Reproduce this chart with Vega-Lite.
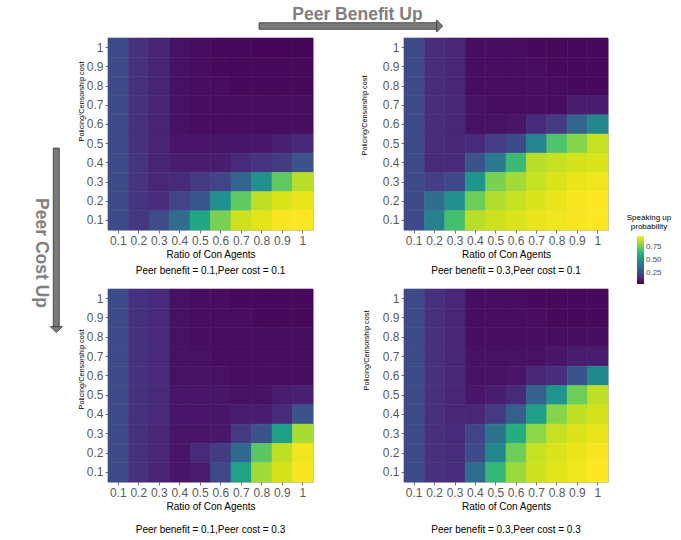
{
  "$schema": "https://vega.github.io/schema/vega-lite/v6.json",
  "padding": {"left": 20, "top": 0, "right": 0, "bottom": 0},
  "config": {
    "font": "Liberation Sans",
    "view": {"stroke": "#c0c0c0", "strokeWidth": 1},
    "axis": {
      "domain": false, "grid": false, "ticks": true, "tickColor": "#4d4d4d", "tickSize": 3, "tickWidth": 0.8,
      "labelColor": "#5a5a5a", "labelFontSize": 12, "labelPadding": 2, "labelOverlap": false, "labelBound": false,
      "titleFontWeight": "normal", "titleColor": "#000000", "titleFontSize": 10
    },
    "axisX": {"labelAngle": 0, "titlePadding": 3},
    "axisY": {"titleFontSize": 7.3, "titlePadding": 1},
    "title": {"fontSize": 10, "fontWeight": "normal", "color": "#000000", "orient": "bottom", "anchor": "middle"},
    "legend": {
      "orient": "none", "legendX": 607, "legendY": 214,
      "gradientLength": 48, "gradientThickness": 7, "gradientStrokeWidth": 0,
      "titleFontSize": 8, "titleFontWeight": "normal", "titleColor": "#000000", "titleLineHeight": 9, "titlePadding": 5,
      "titleAnchor": "middle",
      "labelFontSize": 8, "labelColor": "#4d4d4d", "labelOffset": 4
    }
  },
  "datasets": {
    "b01c01": [
      {"ratio":0.1,"cost":1,"prob":0.24},{"ratio":0.2,"cost":1,"prob":0.16},{"ratio":0.3,"cost":1,"prob":0.12},{"ratio":0.4,"cost":1,"prob":0.07},{"ratio":0.5,"cost":1,"prob":0.06},{"ratio":0.6,"cost":1,"prob":0.05},{"ratio":0.7,"cost":1,"prob":0.05},{"ratio":0.8,"cost":1,"prob":0.04},{"ratio":0.9,"cost":1,"prob":0.04},{"ratio":1,"cost":1,"prob":0.04},
      {"ratio":0.1,"cost":0.9,"prob":0.24},{"ratio":0.2,"cost":0.9,"prob":0.16},{"ratio":0.3,"cost":0.9,"prob":0.12},{"ratio":0.4,"cost":0.9,"prob":0.07},{"ratio":0.5,"cost":0.9,"prob":0.06},{"ratio":0.6,"cost":0.9,"prob":0.05},{"ratio":0.7,"cost":0.9,"prob":0.05},{"ratio":0.8,"cost":0.9,"prob":0.05},{"ratio":0.9,"cost":0.9,"prob":0.05},{"ratio":1,"cost":0.9,"prob":0.05},
      {"ratio":0.1,"cost":0.8,"prob":0.24},{"ratio":0.2,"cost":0.8,"prob":0.16},{"ratio":0.3,"cost":0.8,"prob":0.12},{"ratio":0.4,"cost":0.8,"prob":0.07},{"ratio":0.5,"cost":0.8,"prob":0.06},{"ratio":0.6,"cost":0.8,"prob":0.06},{"ratio":0.7,"cost":0.8,"prob":0.05},{"ratio":0.8,"cost":0.8,"prob":0.05},{"ratio":0.9,"cost":0.8,"prob":0.05},{"ratio":1,"cost":0.8,"prob":0.05},
      {"ratio":0.1,"cost":0.7,"prob":0.24},{"ratio":0.2,"cost":0.7,"prob":0.16},{"ratio":0.3,"cost":0.7,"prob":0.12},{"ratio":0.4,"cost":0.7,"prob":0.07},{"ratio":0.5,"cost":0.7,"prob":0.06},{"ratio":0.6,"cost":0.7,"prob":0.06},{"ratio":0.7,"cost":0.7,"prob":0.06},{"ratio":0.8,"cost":0.7,"prob":0.06},{"ratio":0.9,"cost":0.7,"prob":0.06},{"ratio":1,"cost":0.7,"prob":0.06},
      {"ratio":0.1,"cost":0.6,"prob":0.24},{"ratio":0.2,"cost":0.6,"prob":0.16},{"ratio":0.3,"cost":0.6,"prob":0.12},{"ratio":0.4,"cost":0.6,"prob":0.07},{"ratio":0.5,"cost":0.6,"prob":0.06},{"ratio":0.6,"cost":0.6,"prob":0.06},{"ratio":0.7,"cost":0.6,"prob":0.06},{"ratio":0.8,"cost":0.6,"prob":0.06},{"ratio":0.9,"cost":0.6,"prob":0.06},{"ratio":1,"cost":0.6,"prob":0.06},
      {"ratio":0.1,"cost":0.5,"prob":0.24},{"ratio":0.2,"cost":0.5,"prob":0.16},{"ratio":0.3,"cost":0.5,"prob":0.12},{"ratio":0.4,"cost":0.5,"prob":0.08},{"ratio":0.5,"cost":0.5,"prob":0.08},{"ratio":0.6,"cost":0.5,"prob":0.08},{"ratio":0.7,"cost":0.5,"prob":0.08},{"ratio":0.8,"cost":0.5,"prob":0.09},{"ratio":0.9,"cost":0.5,"prob":0.11},{"ratio":1,"cost":0.5,"prob":0.13},
      {"ratio":0.1,"cost":0.4,"prob":0.24},{"ratio":0.2,"cost":0.4,"prob":0.17},{"ratio":0.3,"cost":0.4,"prob":0.12},{"ratio":0.4,"cost":0.4,"prob":0.10},{"ratio":0.5,"cost":0.4,"prob":0.10},{"ratio":0.6,"cost":0.4,"prob":0.10},{"ratio":0.7,"cost":0.4,"prob":0.14},{"ratio":0.8,"cost":0.4,"prob":0.17},{"ratio":0.9,"cost":0.4,"prob":0.19},{"ratio":1,"cost":0.4,"prob":0.27},
      {"ratio":0.1,"cost":0.3,"prob":0.24},{"ratio":0.2,"cost":0.3,"prob":0.17},{"ratio":0.3,"cost":0.3,"prob":0.13},{"ratio":0.4,"cost":0.3,"prob":0.14},{"ratio":0.5,"cost":0.3,"prob":0.19},{"ratio":0.6,"cost":0.3,"prob":0.22},{"ratio":0.7,"cost":0.3,"prob":0.33},{"ratio":0.8,"cost":0.3,"prob":0.50},{"ratio":0.9,"cost":0.3,"prob":0.74},{"ratio":1,"cost":0.3,"prob":0.87},
      {"ratio":0.1,"cost":0.2,"prob":0.24},{"ratio":0.2,"cost":0.2,"prob":0.17},{"ratio":0.3,"cost":0.2,"prob":0.15},{"ratio":0.4,"cost":0.2,"prob":0.22},{"ratio":0.5,"cost":0.2,"prob":0.28},{"ratio":0.6,"cost":0.2,"prob":0.50},{"ratio":0.7,"cost":0.2,"prob":0.74},{"ratio":0.8,"cost":0.2,"prob":0.88},{"ratio":0.9,"cost":0.2,"prob":0.92},{"ratio":1,"cost":0.2,"prob":0.94},
      {"ratio":0.1,"cost":0.1,"prob":0.24},{"ratio":0.2,"cost":0.1,"prob":0.18},{"ratio":0.3,"cost":0.1,"prob":0.25},{"ratio":0.4,"cost":0.1,"prob":0.36},{"ratio":0.5,"cost":0.1,"prob":0.59},{"ratio":0.6,"cost":0.1,"prob":0.78},{"ratio":0.7,"cost":0.1,"prob":0.90},{"ratio":0.8,"cost":0.1,"prob":0.93},{"ratio":0.9,"cost":0.1,"prob":0.96},{"ratio":1,"cost":0.1,"prob":0.97}
    ],
    "b03c01": [
      {"ratio":0.1,"cost":1,"prob":0.24},{"ratio":0.2,"cost":1,"prob":0.15},{"ratio":0.3,"cost":1,"prob":0.13},{"ratio":0.4,"cost":1,"prob":0.06},{"ratio":0.5,"cost":1,"prob":0.06},{"ratio":0.6,"cost":1,"prob":0.06},{"ratio":0.7,"cost":1,"prob":0.05},{"ratio":0.8,"cost":1,"prob":0.05},{"ratio":0.9,"cost":1,"prob":0.05},{"ratio":1,"cost":1,"prob":0.05},
      {"ratio":0.1,"cost":0.9,"prob":0.24},{"ratio":0.2,"cost":0.9,"prob":0.15},{"ratio":0.3,"cost":0.9,"prob":0.13},{"ratio":0.4,"cost":0.9,"prob":0.06},{"ratio":0.5,"cost":0.9,"prob":0.06},{"ratio":0.6,"cost":0.9,"prob":0.06},{"ratio":0.7,"cost":0.9,"prob":0.06},{"ratio":0.8,"cost":0.9,"prob":0.05},{"ratio":0.9,"cost":0.9,"prob":0.05},{"ratio":1,"cost":0.9,"prob":0.05},
      {"ratio":0.1,"cost":0.8,"prob":0.24},{"ratio":0.2,"cost":0.8,"prob":0.15},{"ratio":0.3,"cost":0.8,"prob":0.13},{"ratio":0.4,"cost":0.8,"prob":0.06},{"ratio":0.5,"cost":0.8,"prob":0.06},{"ratio":0.6,"cost":0.8,"prob":0.06},{"ratio":0.7,"cost":0.8,"prob":0.06},{"ratio":0.8,"cost":0.8,"prob":0.06},{"ratio":0.9,"cost":0.8,"prob":0.05},{"ratio":1,"cost":0.8,"prob":0.05},
      {"ratio":0.1,"cost":0.7,"prob":0.24},{"ratio":0.2,"cost":0.7,"prob":0.15},{"ratio":0.3,"cost":0.7,"prob":0.13},{"ratio":0.4,"cost":0.7,"prob":0.07},{"ratio":0.5,"cost":0.7,"prob":0.06},{"ratio":0.6,"cost":0.7,"prob":0.06},{"ratio":0.7,"cost":0.7,"prob":0.06},{"ratio":0.8,"cost":0.7,"prob":0.06},{"ratio":0.9,"cost":0.7,"prob":0.10},{"ratio":1,"cost":0.7,"prob":0.10},
      {"ratio":0.1,"cost":0.6,"prob":0.24},{"ratio":0.2,"cost":0.6,"prob":0.15},{"ratio":0.3,"cost":0.6,"prob":0.13},{"ratio":0.4,"cost":0.6,"prob":0.07},{"ratio":0.5,"cost":0.6,"prob":0.07},{"ratio":0.6,"cost":0.6,"prob":0.08},{"ratio":0.7,"cost":0.6,"prob":0.14},{"ratio":0.8,"cost":0.6,"prob":0.19},{"ratio":0.9,"cost":0.6,"prob":0.33},{"ratio":1,"cost":0.6,"prob":0.47},
      {"ratio":0.1,"cost":0.5,"prob":0.24},{"ratio":0.2,"cost":0.5,"prob":0.15},{"ratio":0.3,"cost":0.5,"prob":0.13},{"ratio":0.4,"cost":0.5,"prob":0.14},{"ratio":0.5,"cost":0.5,"prob":0.20},{"ratio":0.6,"cost":0.5,"prob":0.24},{"ratio":0.7,"cost":0.5,"prob":0.45},{"ratio":0.8,"cost":0.5,"prob":0.71},{"ratio":0.9,"cost":0.5,"prob":0.80},{"ratio":1,"cost":0.5,"prob":0.89},
      {"ratio":0.1,"cost":0.4,"prob":0.24},{"ratio":0.2,"cost":0.4,"prob":0.14},{"ratio":0.3,"cost":0.4,"prob":0.14},{"ratio":0.4,"cost":0.4,"prob":0.27},{"ratio":0.5,"cost":0.4,"prob":0.41},{"ratio":0.6,"cost":0.4,"prob":0.67},{"ratio":0.7,"cost":0.4,"prob":0.87},{"ratio":0.8,"cost":0.4,"prob":0.89},{"ratio":0.9,"cost":0.4,"prob":0.91},{"ratio":1,"cost":0.4,"prob":0.92},
      {"ratio":0.1,"cost":0.3,"prob":0.24},{"ratio":0.2,"cost":0.3,"prob":0.20},{"ratio":0.3,"cost":0.3,"prob":0.23},{"ratio":0.4,"cost":0.3,"prob":0.52},{"ratio":0.5,"cost":0.3,"prob":0.78},{"ratio":0.6,"cost":0.3,"prob":0.84},{"ratio":0.7,"cost":0.3,"prob":0.89},{"ratio":0.8,"cost":0.3,"prob":0.92},{"ratio":0.9,"cost":0.3,"prob":0.94},{"ratio":1,"cost":0.3,"prob":0.95},
      {"ratio":0.1,"cost":0.2,"prob":0.24},{"ratio":0.2,"cost":0.2,"prob":0.37},{"ratio":0.3,"cost":0.2,"prob":0.50},{"ratio":0.4,"cost":0.2,"prob":0.76},{"ratio":0.5,"cost":0.2,"prob":0.86},{"ratio":0.6,"cost":0.2,"prob":0.89},{"ratio":0.7,"cost":0.2,"prob":0.92},{"ratio":0.8,"cost":0.2,"prob":0.94},{"ratio":0.9,"cost":0.2,"prob":0.96},{"ratio":1,"cost":0.2,"prob":0.97},
      {"ratio":0.1,"cost":0.1,"prob":0.24},{"ratio":0.2,"cost":0.1,"prob":0.44},{"ratio":0.3,"cost":0.1,"prob":0.69},{"ratio":0.4,"cost":0.1,"prob":0.87},{"ratio":0.5,"cost":0.1,"prob":0.90},{"ratio":0.6,"cost":0.1,"prob":0.92},{"ratio":0.7,"cost":0.1,"prob":0.94},{"ratio":0.8,"cost":0.1,"prob":0.95},{"ratio":0.9,"cost":0.1,"prob":0.96},{"ratio":1,"cost":0.1,"prob":0.97}
    ],
    "b01c03": [
      {"ratio":0.1,"cost":1,"prob":0.24},{"ratio":0.2,"cost":1,"prob":0.16},{"ratio":0.3,"cost":1,"prob":0.14},{"ratio":0.4,"cost":1,"prob":0.07},{"ratio":0.5,"cost":1,"prob":0.06},{"ratio":0.6,"cost":1,"prob":0.06},{"ratio":0.7,"cost":1,"prob":0.05},{"ratio":0.8,"cost":1,"prob":0.05},{"ratio":0.9,"cost":1,"prob":0.05},{"ratio":1,"cost":1,"prob":0.05},
      {"ratio":0.1,"cost":0.9,"prob":0.24},{"ratio":0.2,"cost":0.9,"prob":0.16},{"ratio":0.3,"cost":0.9,"prob":0.14},{"ratio":0.4,"cost":0.9,"prob":0.07},{"ratio":0.5,"cost":0.9,"prob":0.06},{"ratio":0.6,"cost":0.9,"prob":0.06},{"ratio":0.7,"cost":0.9,"prob":0.06},{"ratio":0.8,"cost":0.9,"prob":0.05},{"ratio":0.9,"cost":0.9,"prob":0.05},{"ratio":1,"cost":0.9,"prob":0.05},
      {"ratio":0.1,"cost":0.8,"prob":0.24},{"ratio":0.2,"cost":0.8,"prob":0.16},{"ratio":0.3,"cost":0.8,"prob":0.14},{"ratio":0.4,"cost":0.8,"prob":0.07},{"ratio":0.5,"cost":0.8,"prob":0.06},{"ratio":0.6,"cost":0.8,"prob":0.06},{"ratio":0.7,"cost":0.8,"prob":0.06},{"ratio":0.8,"cost":0.8,"prob":0.06},{"ratio":0.9,"cost":0.8,"prob":0.06},{"ratio":1,"cost":0.8,"prob":0.06},
      {"ratio":0.1,"cost":0.7,"prob":0.24},{"ratio":0.2,"cost":0.7,"prob":0.16},{"ratio":0.3,"cost":0.7,"prob":0.14},{"ratio":0.4,"cost":0.7,"prob":0.07},{"ratio":0.5,"cost":0.7,"prob":0.07},{"ratio":0.6,"cost":0.7,"prob":0.06},{"ratio":0.7,"cost":0.7,"prob":0.06},{"ratio":0.8,"cost":0.7,"prob":0.06},{"ratio":0.9,"cost":0.7,"prob":0.06},{"ratio":1,"cost":0.7,"prob":0.06},
      {"ratio":0.1,"cost":0.6,"prob":0.24},{"ratio":0.2,"cost":0.6,"prob":0.16},{"ratio":0.3,"cost":0.6,"prob":0.14},{"ratio":0.4,"cost":0.6,"prob":0.07},{"ratio":0.5,"cost":0.6,"prob":0.07},{"ratio":0.6,"cost":0.6,"prob":0.07},{"ratio":0.7,"cost":0.6,"prob":0.06},{"ratio":0.8,"cost":0.6,"prob":0.06},{"ratio":0.9,"cost":0.6,"prob":0.06},{"ratio":1,"cost":0.6,"prob":0.06},
      {"ratio":0.1,"cost":0.5,"prob":0.24},{"ratio":0.2,"cost":0.5,"prob":0.16},{"ratio":0.3,"cost":0.5,"prob":0.14},{"ratio":0.4,"cost":0.5,"prob":0.08},{"ratio":0.5,"cost":0.5,"prob":0.08},{"ratio":0.6,"cost":0.5,"prob":0.08},{"ratio":0.7,"cost":0.5,"prob":0.07},{"ratio":0.8,"cost":0.5,"prob":0.07},{"ratio":0.9,"cost":0.5,"prob":0.10},{"ratio":1,"cost":0.5,"prob":0.11},
      {"ratio":0.1,"cost":0.4,"prob":0.24},{"ratio":0.2,"cost":0.4,"prob":0.16},{"ratio":0.3,"cost":0.4,"prob":0.14},{"ratio":0.4,"cost":0.4,"prob":0.08},{"ratio":0.5,"cost":0.4,"prob":0.08},{"ratio":0.6,"cost":0.4,"prob":0.08},{"ratio":0.7,"cost":0.4,"prob":0.10},{"ratio":0.8,"cost":0.4,"prob":0.10},{"ratio":0.9,"cost":0.4,"prob":0.14},{"ratio":1,"cost":0.4,"prob":0.27},
      {"ratio":0.1,"cost":0.3,"prob":0.24},{"ratio":0.2,"cost":0.3,"prob":0.16},{"ratio":0.3,"cost":0.3,"prob":0.13},{"ratio":0.4,"cost":0.3,"prob":0.08},{"ratio":0.5,"cost":0.3,"prob":0.08},{"ratio":0.6,"cost":0.3,"prob":0.09},{"ratio":0.7,"cost":0.3,"prob":0.19},{"ratio":0.8,"cost":0.3,"prob":0.27},{"ratio":0.9,"cost":0.3,"prob":0.56},{"ratio":1,"cost":0.3,"prob":0.85},
      {"ratio":0.1,"cost":0.2,"prob":0.24},{"ratio":0.2,"cost":0.2,"prob":0.16},{"ratio":0.3,"cost":0.2,"prob":0.13},{"ratio":0.4,"cost":0.2,"prob":0.08},{"ratio":0.5,"cost":0.2,"prob":0.14},{"ratio":0.6,"cost":0.2,"prob":0.19},{"ratio":0.7,"cost":0.2,"prob":0.35},{"ratio":0.8,"cost":0.2,"prob":0.73},{"ratio":0.9,"cost":0.2,"prob":0.88},{"ratio":1,"cost":0.2,"prob":0.95},
      {"ratio":0.1,"cost":0.1,"prob":0.24},{"ratio":0.2,"cost":0.1,"prob":0.16},{"ratio":0.3,"cost":0.1,"prob":0.12},{"ratio":0.4,"cost":0.1,"prob":0.08},{"ratio":0.5,"cost":0.1,"prob":0.10},{"ratio":0.6,"cost":0.1,"prob":0.23},{"ratio":0.7,"cost":0.1,"prob":0.57},{"ratio":0.8,"cost":0.1,"prob":0.84},{"ratio":0.9,"cost":0.1,"prob":0.91},{"ratio":1,"cost":0.1,"prob":0.96}
    ],
    "b03c03": [
      {"ratio":0.1,"cost":1,"prob":0.24},{"ratio":0.2,"cost":1,"prob":0.16},{"ratio":0.3,"cost":1,"prob":0.13},{"ratio":0.4,"cost":1,"prob":0.06},{"ratio":0.5,"cost":1,"prob":0.06},{"ratio":0.6,"cost":1,"prob":0.06},{"ratio":0.7,"cost":1,"prob":0.05},{"ratio":0.8,"cost":1,"prob":0.05},{"ratio":0.9,"cost":1,"prob":0.05},{"ratio":1,"cost":1,"prob":0.05},
      {"ratio":0.1,"cost":0.9,"prob":0.24},{"ratio":0.2,"cost":0.9,"prob":0.16},{"ratio":0.3,"cost":0.9,"prob":0.13},{"ratio":0.4,"cost":0.9,"prob":0.06},{"ratio":0.5,"cost":0.9,"prob":0.06},{"ratio":0.6,"cost":0.9,"prob":0.06},{"ratio":0.7,"cost":0.9,"prob":0.06},{"ratio":0.8,"cost":0.9,"prob":0.05},{"ratio":0.9,"cost":0.9,"prob":0.05},{"ratio":1,"cost":0.9,"prob":0.05},
      {"ratio":0.1,"cost":0.8,"prob":0.24},{"ratio":0.2,"cost":0.8,"prob":0.16},{"ratio":0.3,"cost":0.8,"prob":0.13},{"ratio":0.4,"cost":0.8,"prob":0.06},{"ratio":0.5,"cost":0.8,"prob":0.06},{"ratio":0.6,"cost":0.8,"prob":0.06},{"ratio":0.7,"cost":0.8,"prob":0.06},{"ratio":0.8,"cost":0.8,"prob":0.06},{"ratio":0.9,"cost":0.8,"prob":0.06},{"ratio":1,"cost":0.8,"prob":0.06},
      {"ratio":0.1,"cost":0.7,"prob":0.24},{"ratio":0.2,"cost":0.7,"prob":0.16},{"ratio":0.3,"cost":0.7,"prob":0.13},{"ratio":0.4,"cost":0.7,"prob":0.07},{"ratio":0.5,"cost":0.7,"prob":0.07},{"ratio":0.6,"cost":0.7,"prob":0.07},{"ratio":0.7,"cost":0.7,"prob":0.07},{"ratio":0.8,"cost":0.7,"prob":0.08},{"ratio":0.9,"cost":0.7,"prob":0.10},{"ratio":1,"cost":0.7,"prob":0.10},
      {"ratio":0.1,"cost":0.6,"prob":0.24},{"ratio":0.2,"cost":0.6,"prob":0.16},{"ratio":0.3,"cost":0.6,"prob":0.13},{"ratio":0.4,"cost":0.6,"prob":0.07},{"ratio":0.5,"cost":0.6,"prob":0.07},{"ratio":0.6,"cost":0.6,"prob":0.08},{"ratio":0.7,"cost":0.6,"prob":0.13},{"ratio":0.8,"cost":0.6,"prob":0.15},{"ratio":0.9,"cost":0.6,"prob":0.27},{"ratio":1,"cost":0.6,"prob":0.47},
      {"ratio":0.1,"cost":0.5,"prob":0.24},{"ratio":0.2,"cost":0.5,"prob":0.16},{"ratio":0.3,"cost":0.5,"prob":0.13},{"ratio":0.4,"cost":0.5,"prob":0.08},{"ratio":0.5,"cost":0.5,"prob":0.10},{"ratio":0.6,"cost":0.5,"prob":0.14},{"ratio":0.7,"cost":0.5,"prob":0.32},{"ratio":0.8,"cost":0.5,"prob":0.52},{"ratio":0.9,"cost":0.5,"prob":0.76},{"ratio":1,"cost":0.5,"prob":0.88},
      {"ratio":0.1,"cost":0.4,"prob":0.24},{"ratio":0.2,"cost":0.4,"prob":0.16},{"ratio":0.3,"cost":0.4,"prob":0.13},{"ratio":0.4,"cost":0.4,"prob":0.13},{"ratio":0.5,"cost":0.4,"prob":0.19},{"ratio":0.6,"cost":0.4,"prob":0.31},{"ratio":0.7,"cost":0.4,"prob":0.56},{"ratio":0.8,"cost":0.4,"prob":0.80},{"ratio":0.9,"cost":0.4,"prob":0.88},{"ratio":1,"cost":0.4,"prob":0.91},
      {"ratio":0.1,"cost":0.3,"prob":0.24},{"ratio":0.2,"cost":0.3,"prob":0.16},{"ratio":0.3,"cost":0.3,"prob":0.14},{"ratio":0.4,"cost":0.3,"prob":0.22},{"ratio":0.5,"cost":0.3,"prob":0.39},{"ratio":0.6,"cost":0.3,"prob":0.61},{"ratio":0.7,"cost":0.3,"prob":0.81},{"ratio":0.8,"cost":0.3,"prob":0.89},{"ratio":0.9,"cost":0.3,"prob":0.92},{"ratio":1,"cost":0.3,"prob":0.94},
      {"ratio":0.1,"cost":0.2,"prob":0.24},{"ratio":0.2,"cost":0.2,"prob":0.16},{"ratio":0.3,"cost":0.2,"prob":0.15},{"ratio":0.4,"cost":0.2,"prob":0.24},{"ratio":0.5,"cost":0.2,"prob":0.47},{"ratio":0.6,"cost":0.2,"prob":0.76},{"ratio":0.7,"cost":0.2,"prob":0.89},{"ratio":0.8,"cost":0.2,"prob":0.92},{"ratio":0.9,"cost":0.2,"prob":0.94},{"ratio":1,"cost":0.2,"prob":0.96},
      {"ratio":0.1,"cost":0.1,"prob":0.24},{"ratio":0.2,"cost":0.1,"prob":0.16},{"ratio":0.3,"cost":0.1,"prob":0.15},{"ratio":0.4,"cost":0.1,"prob":0.36},{"ratio":0.5,"cost":0.1,"prob":0.66},{"ratio":0.6,"cost":0.1,"prob":0.83},{"ratio":0.7,"cost":0.1,"prob":0.90},{"ratio":0.8,"cost":0.1,"prob":0.93},{"ratio":0.9,"cost":0.1,"prob":0.95},{"ratio":1,"cost":0.1,"prob":0.97}
    ]
  },
  "resolve": {"scale": {"color": "shared"}, "legend": {"color": "shared"}},
  "bounds": "flush",
  "align": "each",
  "columns": 3,
  "spacing": {"row": 8, "column": 43},
  "concat": [
    {
      "width": 1, "height": 1,
      "view": {"stroke": null},
      "data": {"values": []},
      "mark": "point"
    },
    {
      "width": 253,
      "height": 30,
      "view": {"stroke": null},
      "data": {"values": [{}]},
      "layer": [
        {
          "mark": {"type": "rect", "fill": "#7a7a7a", "stroke": "#333333", "strokeWidth": 0.8},
          "encoding": {
            "x": {"datum": 0.597, "type": "quantitative", "scale": {"domain": [0, 1]}, "axis": null},
            "x2": {"datum": 1.302},
            "y": {"datum": 0.757, "type": "quantitative", "scale": {"domain": [0, 1], "reverse": true}, "axis": null},
            "y2": {"datum": 0.977}
          }
        },
        {
          "mark": {"type": "point", "shape": "M-0.5,-1L0.5,0L-0.5,1Z", "filled": true, "fill": "#7a7a7a", "stroke": "#333333", "strokeWidth": 0.8, "size": 144, "opacity": 1},
          "encoding": {
            "x": {"datum": 1.311, "type": "quantitative"},
            "y": {"datum": 0.867, "type": "quantitative"}
          }
        },
        {
          "mark": {"type": "text", "text": "Peer Benefit Up", "fontSize": 17.5, "fontWeight": "bold", "fill": "#808080", "align": "center", "baseline": "middle"},
          "encoding": {
            "x": {"datum": 0.986, "type": "quantitative"},
            "y": {"datum": 0.5, "type": "quantitative"}
          }
        }
      ]
    },
    {
      "width": 1, "height": 1,
      "view": {"stroke": null},
      "data": {"values": []},
      "mark": "point"
    },
    {
      "width": 45,
      "height": 243,
      "view": {"stroke": null},
      "data": {"values": [{}]},
      "layer": [
        {
          "mark": {"type": "rect", "fill": "#7a7a7a", "stroke": "#333333", "strokeWidth": 0.8},
          "encoding": {
            "x": {"datum": 0.74, "type": "quantitative", "scale": {"domain": [0, 1]}, "axis": null},
            "x2": {"datum": 0.873},
            "y": {"datum": 0.453, "type": "quantitative", "scale": {"domain": [0, 1], "reverse": true}, "axis": null},
            "y2": {"datum": 1.188}
          }
        },
        {
          "mark": {"type": "point", "shape": "M-1,-0.5L1,-0.5L0,0.5Z", "filled": true, "fill": "#7a7a7a", "stroke": "#333333", "strokeWidth": 0.8, "size": 144, "opacity": 1},
          "encoding": {
            "x": {"datum": 0.807, "type": "quantitative"},
            "y": {"datum": 1.2, "type": "quantitative"}
          }
        },
        {
          "mark": {"type": "text", "text": "Peer Cost Up", "angle": 90, "fontSize": 17.5, "fontWeight": "bold", "fill": "#808080", "align": "center", "baseline": "middle"},
          "encoding": {
            "x": {"datum": 0.46, "type": "quantitative"},
            "y": {"datum": 0.885, "type": "quantitative"}
          }
        }
      ]
    },
    {
      "width": 205, "height": 192,
      "data": {"name": "b01c01"},
      "title": {"text": "Peer benefit = 0.1,Peer cost = 0.1", "offset": 7},
      "mark": {"type": "rect", "strokeWidth": 0.6, "stroke": {"expr": "scale('color', datum.prob)"}},
      "encoding": {
        "x": {"field": "ratio", "type": "ordinal", "axis": {"title": "Ratio of Con Agents"}},
        "y": {"field": "cost", "type": "ordinal", "sort": "descending", "axis": {"title": "Policing/Censorship cost", "titleY": 63, "titlePadding": 1}},
        "color": {"field": "prob", "type": "quantitative", "scale": {"scheme": "viridis", "domain": [0.03, 0.97]}, "legend": {"type": "gradient", "title": ["Speaking up", "probability"], "values": [0.25, 0.5, 0.75], "format": ".2f"}}
      }
    },
    {
      "width": 204, "height": 192,
      "data": {"name": "b03c01"},
      "title": {"text": "Peer benefit = 0.3,Peer cost = 0.1", "offset": 7},
      "mark": {"type": "rect", "strokeWidth": 0.6, "stroke": {"expr": "scale('color', datum.prob)"}},
      "encoding": {
        "x": {"field": "ratio", "type": "ordinal", "axis": {"title": "Ratio of Con Agents"}},
        "y": {"field": "cost", "type": "ordinal", "sort": "descending", "axis": {"title": "Policing/Censorship cost", "titleY": 77, "titlePadding": 14}},
        "color": {"field": "prob", "type": "quantitative", "scale": {"scheme": "viridis", "domain": [0.03, 0.97]}, "legend": {"type": "gradient", "title": ["Speaking up", "probability"], "values": [0.25, 0.5, 0.75], "format": ".2f"}}
      }
    },
    {
      "width": 1, "height": 1,
      "view": {"stroke": null},
      "data": {"values": []},
      "mark": "point"
    },
    {
      "width": 205, "height": 193,
      "data": {"name": "b01c03"},
      "title": {"text": "Peer benefit = 0.1,Peer cost = 0.3", "offset": 14},
      "mark": {"type": "rect", "strokeWidth": 0.6, "stroke": {"expr": "scale('color', datum.prob)"}},
      "encoding": {
        "x": {"field": "ratio", "type": "ordinal", "axis": {"title": "Ratio of Con Agents"}},
        "y": {"field": "cost", "type": "ordinal", "sort": "descending", "axis": {"title": "Policing/Censorship cost", "titleY": 80, "titlePadding": 1}},
        "color": {"field": "prob", "type": "quantitative", "scale": {"scheme": "viridis", "domain": [0.03, 0.97]}, "legend": {"type": "gradient", "title": ["Speaking up", "probability"], "values": [0.25, 0.5, 0.75], "format": ".2f"}}
      }
    },
    {
      "width": 204, "height": 193,
      "data": {"name": "b03c03"},
      "title": {"text": "Peer benefit = 0.3,Peer cost = 0.3", "offset": 14},
      "mark": {"type": "rect", "strokeWidth": 0.6, "stroke": {"expr": "scale('color', datum.prob)"}},
      "encoding": {
        "x": {"field": "ratio", "type": "ordinal", "axis": {"title": "Ratio of Con Agents"}},
        "y": {"field": "cost", "type": "ordinal", "sort": "descending", "axis": {"title": "Policing/Censorship cost", "titleY": 61, "titlePadding": 12}},
        "color": {"field": "prob", "type": "quantitative", "scale": {"scheme": "viridis", "domain": [0.03, 0.97]}, "legend": {"type": "gradient", "title": ["Speaking up", "probability"], "values": [0.25, 0.5, 0.75], "format": ".2f"}}
      }
    }
  ]
}
